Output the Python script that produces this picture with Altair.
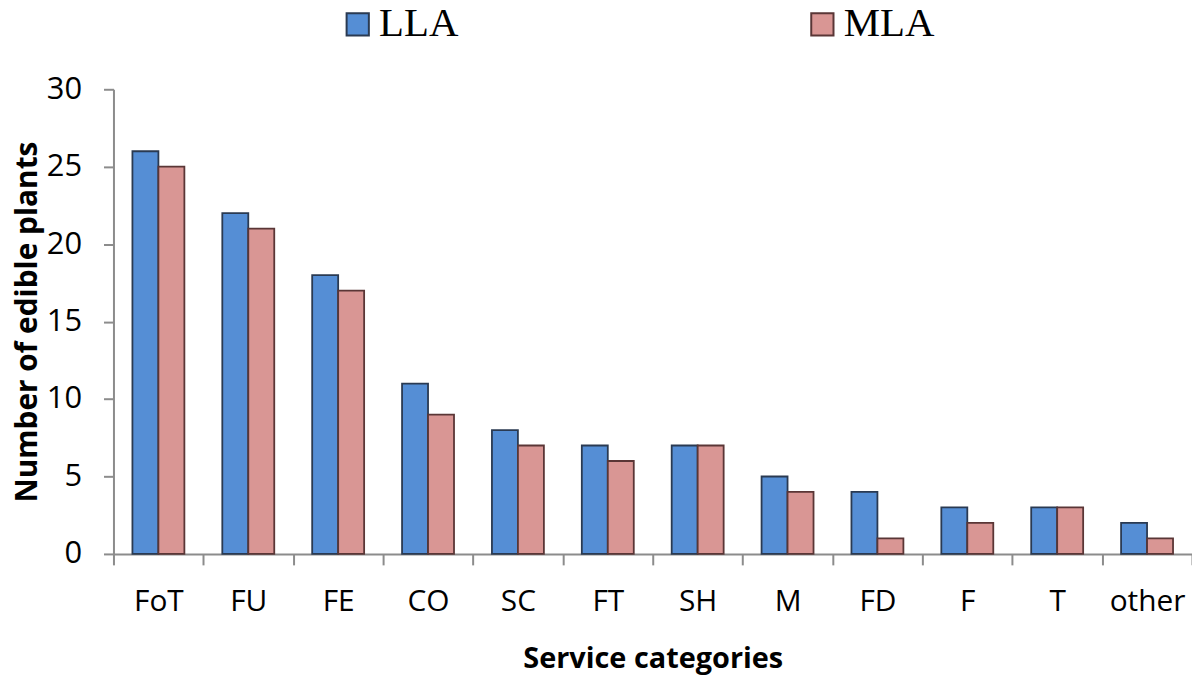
import altair as alt
import pandas as pd

categories = ["FoT", "FU", "FE", "CO", "SC", "FT", "SH", "M", "FD", "F", "T", "other"]
lla = [26, 22, 18, 11, 8, 7, 7, 5, 4, 3, 3, 2]
mla = [25, 21, 17, 9, 7, 6, 7, 4, 1, 2, 3, 1]
series = ["LLA", "MLA"]

rows = []
for c, a, b in zip(categories, lla, mla):
    rows.append({"cat": c, "series": "LLA", "value": a})
    rows.append({"cat": c, "series": "MLA", "value": b})
df = pd.DataFrame(rows)

SANS = "Open Sans"
GRAY = "#8c8c8c"

chart = alt.Chart(df).mark_bar(strokeWidth=1.8).encode(
    x=alt.X("cat:N", sort=categories,
            scale=alt.Scale(paddingInner=0, paddingOuter=0),
            axis=alt.Axis(title="Service categories", labelAngle=0, tickBand="extent",
                          labelFont=SANS, labelFontSize=30, labelColor="black",
                          labelPadding=22, tickSize=11, tickWidth=2, tickColor=GRAY,
                          domainColor=GRAY, domainWidth=2,
                          titleFont=SANS, titleFontSize=29, titleFontWeight="bold",
                          titleColor="black", titlePadding=28, grid=False)),
    xOffset=alt.XOffset("series:N", sort=series,
                        scale=alt.Scale(paddingInner=0, paddingOuter=0.73)),
    y=alt.Y("value:Q", scale=alt.Scale(domain=[0, 30], nice=False),
            axis=alt.Axis(title="Number of edible plants", values=[0, 5, 10, 15, 20, 25, 30],
                          labelFont=SANS, labelFontSize=31, labelColor="black",
                          labelPadding=22, tickSize=10, tickWidth=2, tickColor=GRAY,
                          domainColor=GRAY, domainWidth=2, grid=False,
                          titleFont=SANS, titleFontSize=30, titleFontWeight="bold",
                          titleColor="black", titlePadding=4)),
    fill=alt.Fill("series:N", sort=series,
                  scale=alt.Scale(domain=series, range=["#558ED5", "#D99694"]),
                  legend=alt.Legend(title=None, orient="none", legendX=225, legendY=-86,
                                    direction="horizontal", symbolType="square",
                                    symbolSize=500, symbolStrokeWidth=2,
                                    labelFont="Liberation Serif", labelFontSize=41,
                                    labelColor="black", labelOffset=1,
                                    columnPadding=345)),
    stroke=alt.Stroke("series:N", sort=series,
                      scale=alt.Scale(domain=series, range=["#2a3a52", "#5a3636"]),
                      legend=None),
).properties(
    width=1084, height=467,
    autosize=alt.AutoSizeParams(type="none"),
    padding={"left": 106, "top": 80, "right": 0, "bottom": 121},
).configure_view(stroke=None)

chart.save("out.html", embed_options={"renderer": "svg", "actions": False})
